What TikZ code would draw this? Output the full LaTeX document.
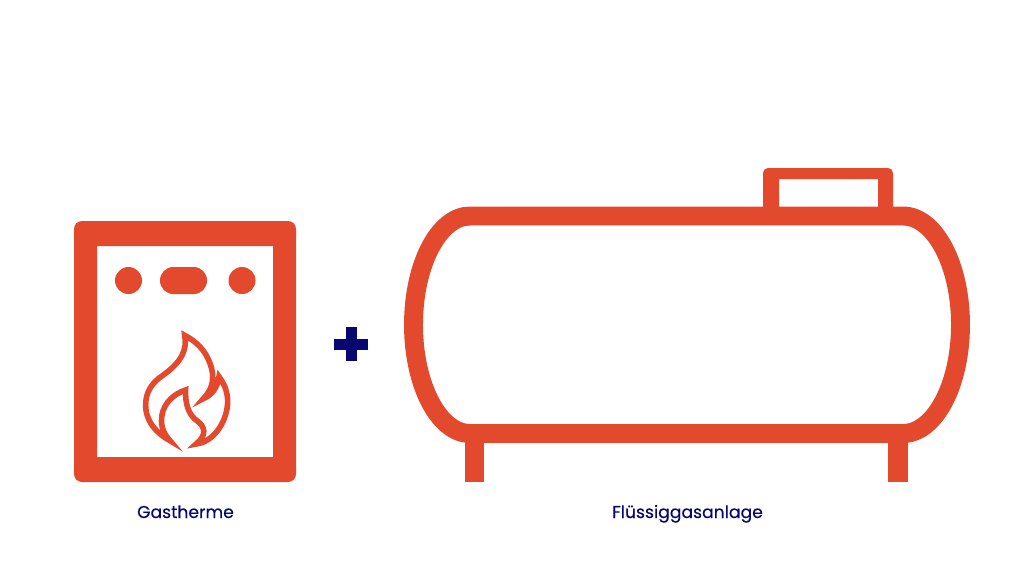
\documentclass[tikz,border=0pt]{standalone}
\usepackage{fontspec}
\setmainfont{Poppins}[RawFeature={embolden=0.35}]
\definecolor{flame}{HTML}{E2492D}
\definecolor{navy}{HTML}{07076F}

\begin{document}
\begin{tikzpicture}[x=0.75pt,y=-0.75pt]
  \tikzstyle{every node}=[text=navy,font=\fontsize{12.9}{15}\selectfont,inner sep=0pt,anchor=base]
  \tikzstyle{part}=[fill=flame,draw=none]
  \tikzstyle{tube}=[draw=flame,line width=14.2pt,fill=none]
  \tikzstyle{flameline}=[draw=flame,line width=4.2pt,miter limit=12,line join=miter]

  \useasboundingbox (0,0) rectangle (1024,576);

  % boiler
  \fill[part,even odd rule,rounded corners=8*0.75pt] (74,221) rectangle (296,482)
     [sharp corners] (97,246) rectangle (273,457);
  \fill[part] (128.5,280.5) circle [radius=13.5];
  \fill[part,rounded corners=10pt] (160,267) rectangle (207,294);
  \fill[part] (242,280.5) circle [radius=13.5];

  % flame, traced at three times the size
  \begin{scope}[shift={(120,320)},x=0.25pt,y=-0.25pt]
    \draw[flameline] (194,46) .. controls (202,90) and (185,125) .. (130,165)
      .. controls (92,190) and (77,220) .. (77,255)
      .. controls (77,305) and (110,340) .. (150,362)
      .. controls (125,335) and (122,310) .. (126,285)
      .. controls (132,250) and (160,222) .. (197,210)
      .. controls (195,250) and (205,285) .. (232,303)
      .. controls (255,320) and (262,345) .. (228,372)
      .. controls (285,365) and (322,300) .. (323,245)
      .. controls (323,215) and (312,190) .. (297,170)
      .. controls (292,205) and (275,225) .. (250,236)
      .. controls (280,205) and (285,170) .. (270,130)
      .. controls (255,90) and (230,65) .. cycle;
  \end{scope}

  % plus
  \fill[navy] (345.5,327) rectangle (356.5,361);
  \fill[navy] (334,338.5) rectangle (368,349.5);

  % tank
  \fill[part,even odd rule,rounded corners=5*0.75pt] (763,168) rectangle (893,212)
     [sharp corners] (779,179) rectangle (878,212);
  \fill[part] (465,435) rectangle (484,482);
  \fill[part] (888,435) rectangle (908,482);
  \draw[tube] (470,216) -- (903,216)
     arc [start angle=-90,end angle=90,x radius=57.5,y radius=108.75]
     -- (470,433.5)
     arc [start angle=90,end angle=270,x radius=56.5,y radius=108.75] -- cycle;

  \node (boiler) at (185.5,518) {Gastherme};
  \node (tank) at (687.5,518) {Flüssiggasanlage};
\end{tikzpicture}
\end{document}
